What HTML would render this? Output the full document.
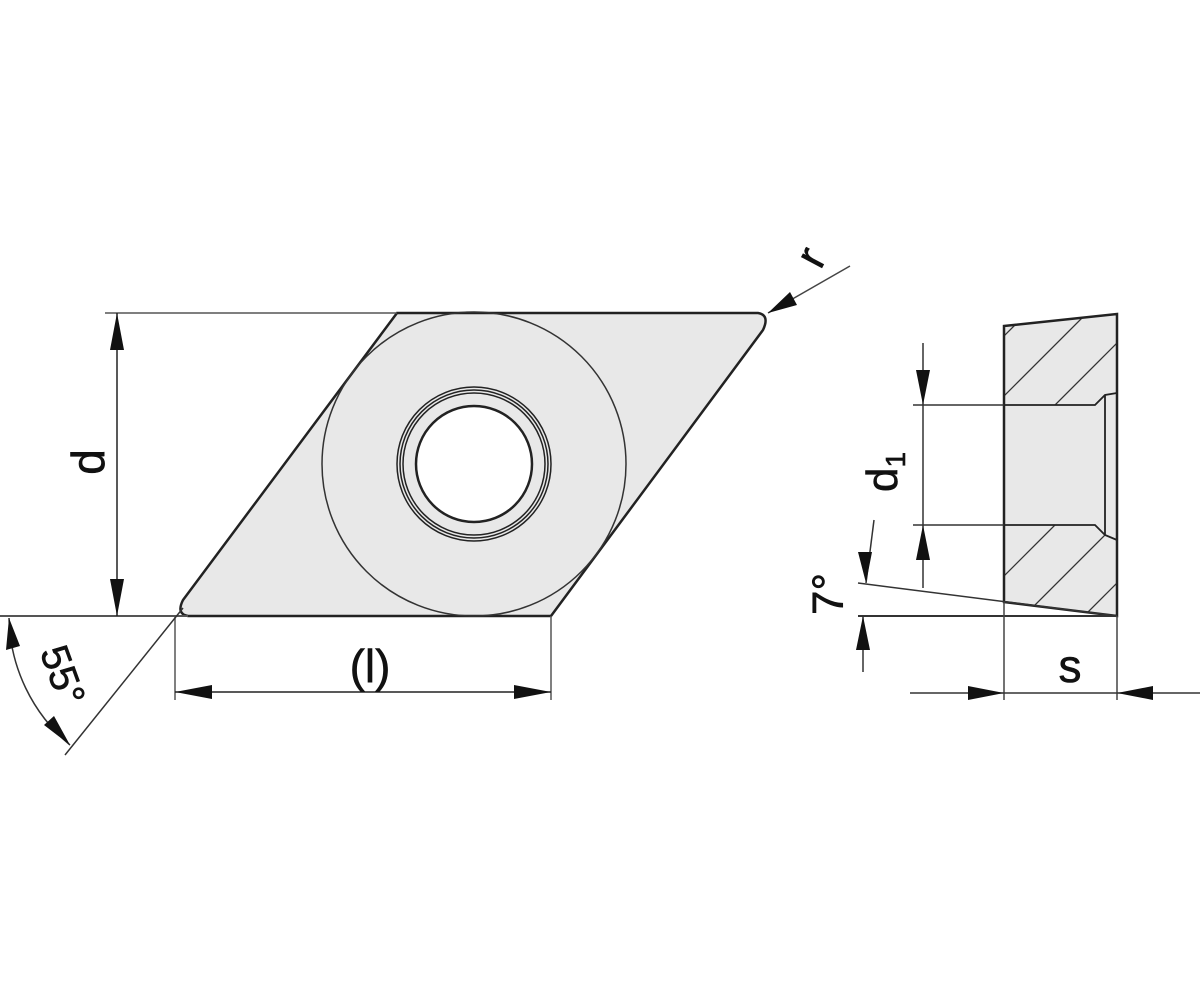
<!DOCTYPE html>
<html><head><meta charset="utf-8"><style>
html,body{margin:0;padding:0;background:#fff}
svg{display:block}
text{font-family:"Liberation Sans",sans-serif;fill:#111;stroke:#111;stroke-width:0.6}
</style></head><body>
<svg width="1200" height="1000" viewBox="0 0 1200 1000" xmlns="http://www.w3.org/2000/svg">
<defs>
<clipPath id="hc"><path d="M1004,326 L1117,314 L1117,393 L1105,395 L1095,405 L1004,405 Z M1004,525 L1095,525 L1105,535 L1117,540 L1117,616 L1004,602 Z"/></clipPath>
</defs>
<path d="M397,313 L758,313 Q770,315 763,330 L551,616 L188,616 Q176,614 183,600 Z" fill="#e8e8e8" stroke="#222" stroke-width="2.5"/>
<circle cx="474" cy="464" r="152" fill="none" stroke="#333" stroke-width="1.5"/>
<circle cx="474" cy="464" r="77" fill="none" stroke="#222" stroke-width="1.5"/>
<circle cx="474" cy="464" r="74" fill="none" stroke="#222" stroke-width="1.5"/>
<circle cx="474" cy="464" r="71" fill="none" stroke="#222" stroke-width="1.5"/>
<circle cx="474" cy="464" r="58" fill="#fff" stroke="#222" stroke-width="2.5"/>
<line x1="105" y1="313" x2="397" y2="313" stroke="#555" stroke-width="1.5"/>
<line x1="0" y1="616" x2="188" y2="616" stroke="#555" stroke-width="2"/>
<line x1="117" y1="313" x2="117" y2="616" stroke="#222" stroke-width="1.5"/>
<path d="M117,313 L110,350 L124,350 Z M117,616 L110,579 L124,579 Z" fill="#111"/>
<text x="0" y="0" font-size="46" transform="translate(104,462) rotate(-90)" text-anchor="middle">d</text>
<line x1="175" y1="616" x2="175" y2="700" stroke="#555" stroke-width="1.5"/>
<line x1="551" y1="616" x2="551" y2="700" stroke="#555" stroke-width="1.5"/>
<line x1="175" y1="692" x2="551" y2="692" stroke="#222" stroke-width="1.5"/>
<path d="M175,692 L212,685 L212,699 Z M551,692 L514,685 L514,699 Z" fill="#111"/>
<text x="370" y="682" font-size="46" text-anchor="middle">(l)</text>
<line x1="183" y1="608" x2="65" y2="755" stroke="#333" stroke-width="1.5"/>
<path d="M9,618 A170,170 0 0 0 70,745" fill="none" stroke="#333" stroke-width="1.5"/>
<path d="M9,618 L6,650 L20,646 Z M70,745 L44,725 L54,716 Z" fill="#111"/>
<text x="0" y="0" font-size="40" transform="translate(50,680) rotate(70)" text-anchor="middle">55°</text>
<line x1="850" y1="266" x2="768" y2="313" stroke="#444" stroke-width="1.5"/>
<path d="M768,313 L790,292 L797,305 Z" fill="#111"/>
<text x="0" y="0" font-size="44" transform="translate(824,264) rotate(-62)" text-anchor="middle">r</text>
<path d="M1004,326 L1117,314 L1117,616 L1004,602 Z" fill="#e8e8e8" stroke="none"/>
<g clip-path="url(#hc)" stroke="#333" stroke-width="1.3">
<line x1="800" y1="480" x2="1140" y2="140"/>
<line x1="830" y1="510" x2="1170" y2="170"/>
<line x1="860" y1="540" x2="1200" y2="200"/>
<line x1="890" y1="570" x2="1230" y2="230"/>
<line x1="920" y1="600" x2="1260" y2="260"/>
<line x1="950" y1="630" x2="1290" y2="290"/>
<line x1="980" y1="660" x2="1320" y2="320"/>
<line x1="1010" y1="690" x2="1350" y2="350"/>
<line x1="1040" y1="720" x2="1380" y2="380"/>
<line x1="1070" y1="750" x2="1410" y2="410"/>
<line x1="1100" y1="780" x2="1440" y2="440"/>
</g>
<path d="M1004,405 L1095,405 L1105,395 L1117,393 M1004,525 L1095,525 L1105,535 L1117,540 M1105,395 L1105,535" fill="none" stroke="#222" stroke-width="1.8"/>
<path d="M1004,326 L1117,314 L1117,616 L1004,602 Z" fill="none" stroke="#222" stroke-width="2.5"/>
<line x1="913" y1="405" x2="1004" y2="405" stroke="#333" stroke-width="1.5"/>
<line x1="913" y1="525" x2="1004" y2="525" stroke="#333" stroke-width="1.5"/>
<line x1="923" y1="343" x2="923" y2="588" stroke="#333" stroke-width="1.5"/>
<path d="M923,405 L916,370 L930,370 Z M923,525 L916,560 L930,560 Z" fill="#111"/>
<text x="0" y="0" font-size="44" transform="translate(897,492) rotate(-90)">d<tspan font-size="28" dy="8">1</tspan></text>
<line x1="858" y1="583" x2="1117" y2="616" stroke="#333" stroke-width="1.5"/>
<line x1="858" y1="616" x2="1117" y2="616" stroke="#333" stroke-width="2"/>
<line x1="874" y1="520" x2="866" y2="583" stroke="#333" stroke-width="1.5"/>
<line x1="863" y1="616" x2="863" y2="672" stroke="#333" stroke-width="1.5"/>
<path d="M866,583 L858,552 L872,552 Z M863,616 L856,650 L870,650 Z" fill="#111"/>
<text x="0" y="0" font-size="44" transform="translate(843,594) rotate(-90)" text-anchor="middle">7°</text>
<line x1="1004" y1="602" x2="1004" y2="700" stroke="#444" stroke-width="1.5"/>
<line x1="1117" y1="616" x2="1117" y2="700" stroke="#444" stroke-width="1.5"/>
<line x1="910" y1="693" x2="1200" y2="693" stroke="#333" stroke-width="1.5"/>
<path d="M1004,693 L968,686 L968,700 Z M1117,693 L1153,686 L1153,700 Z" fill="#111"/>
<text x="1070" y="682" font-size="46" text-anchor="middle">s</text>
</svg>
</body></html>
